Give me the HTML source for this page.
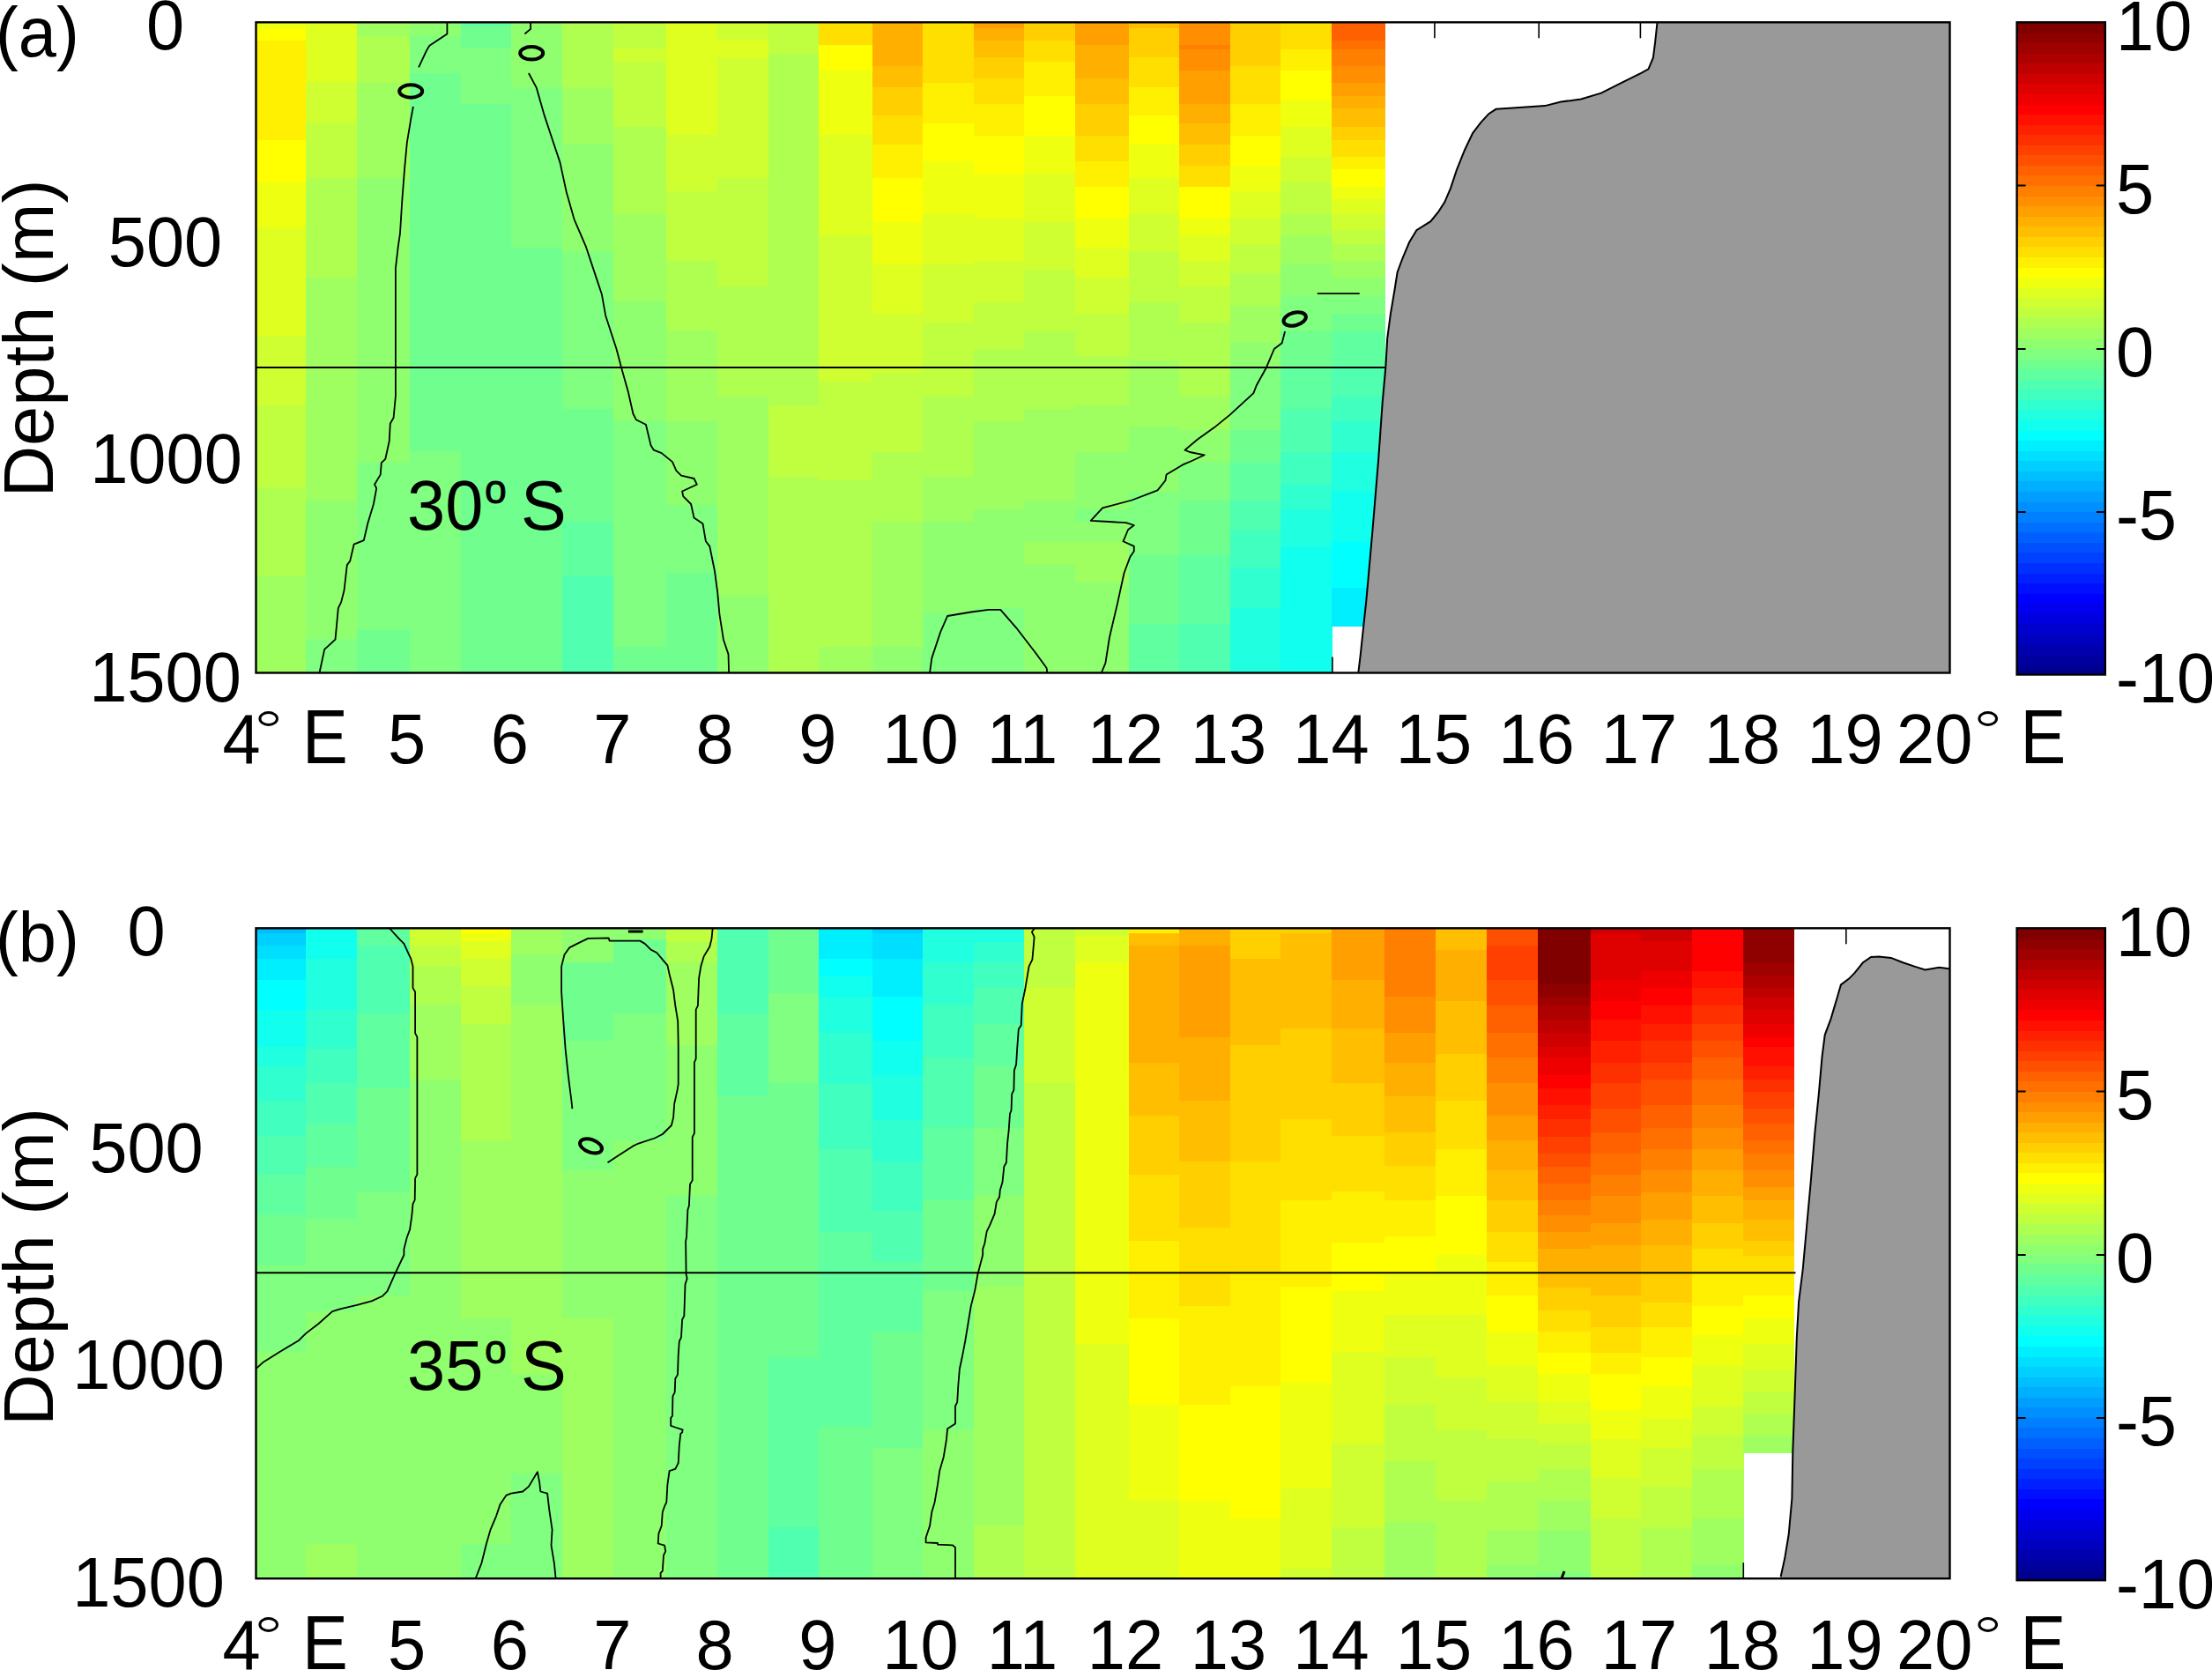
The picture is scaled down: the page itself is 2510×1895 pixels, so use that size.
<!DOCTYPE html>
<html><head><meta charset="utf-8"><title>Depth sections</title>
<style>
html,body{margin:0;padding:0;background:#fff;}
body{width:2510px;height:1895px;overflow:hidden;}
svg{display:block;font-family:"Liberation Sans",sans-serif;fill:#000;}
</style></head><body>
<svg width="2510" height="1895" viewBox="0 0 2510 1895">
<rect width="2510" height="1895" fill="#fff"/>
<g shape-rendering="crispEdges"><rect x="290.5" y="25.3" width="57.1" height="7.8" fill="#efff10"/>
<rect x="290.5" y="32.5" width="57.1" height="13.9" fill="#ffff00"/>
<rect x="290.5" y="45.8" width="57.1" height="113.6" fill="#ffef00"/>
<rect x="290.5" y="158.8" width="57.1" height="48.5" fill="#ffff00"/>
<rect x="290.5" y="206.7" width="57.1" height="51.4" fill="#efff10"/>
<rect x="290.5" y="257.5" width="57.1" height="123.6" fill="#dfff20"/>
<rect x="290.5" y="380.5" width="57.1" height="79.6" fill="#cfff30"/>
<rect x="290.5" y="459.5" width="57.1" height="94.1" fill="#bfff40"/>
<rect x="290.5" y="553" width="57.1" height="102" fill="#afff50"/>
<rect x="290.5" y="654.4" width="57.1" height="109.7" fill="#9fff60"/>
<rect x="347" y="25.3" width="58.6" height="68.3" fill="#dfff20"/>
<rect x="347" y="93" width="58.6" height="47.6" fill="#cfff30"/>
<rect x="347" y="140" width="58.6" height="62.6" fill="#bfff40"/>
<rect x="347" y="202" width="58.6" height="113.6" fill="#afff50"/>
<rect x="347" y="315" width="58.6" height="253.1" fill="#9fff60"/>
<rect x="347" y="567.5" width="58.6" height="157.7" fill="#8fff70"/>
<rect x="347" y="724.6" width="58.6" height="39.5" fill="#80ff80"/>
<rect x="405" y="25.3" width="60.7" height="16.3" fill="#9fff60"/>
<rect x="405" y="41" width="60.7" height="53.6" fill="#afff50"/>
<rect x="405" y="94" width="60.7" height="108.6" fill="#9fff60"/>
<rect x="405" y="202" width="60.7" height="323.6" fill="#8fff70"/>
<rect x="405" y="525" width="60.7" height="190.2" fill="#80ff80"/>
<rect x="405" y="714.6" width="60.7" height="49.5" fill="#70ff8f"/>
<rect x="465.1" y="25.3" width="58.5" height="16.3" fill="#8fff70"/>
<rect x="465.1" y="41" width="58.5" height="42.6" fill="#80ff80"/>
<rect x="465.1" y="83" width="58.5" height="429.6" fill="#70ff8f"/>
<rect x="465.1" y="512" width="58.5" height="252.1" fill="#80ff80"/>
<rect x="523" y="25.3" width="57.9" height="5.3" fill="#60ff9f"/>
<rect x="523" y="30" width="57.9" height="25.6" fill="#70ff8f"/>
<rect x="523" y="55" width="57.9" height="63.2" fill="#80ff80"/>
<rect x="523" y="117.6" width="57.9" height="646.5" fill="#70ff8f"/>
<rect x="580.3" y="25.3" width="58.3" height="73.9" fill="#8fff70"/>
<rect x="580.3" y="98.6" width="58.3" height="183" fill="#80ff80"/>
<rect x="580.3" y="281" width="58.3" height="483.1" fill="#70ff8f"/>
<rect x="638" y="25.3" width="58.3" height="73.9" fill="#afff50"/>
<rect x="638" y="98.6" width="58.3" height="65" fill="#9fff60"/>
<rect x="638" y="163" width="58.3" height="123.6" fill="#8fff70"/>
<rect x="638" y="286" width="58.3" height="178.6" fill="#80ff80"/>
<rect x="638" y="464" width="58.3" height="128.6" fill="#70ff8f"/>
<rect x="638" y="592" width="58.3" height="62.6" fill="#60ff9f"/>
<rect x="638" y="654" width="58.3" height="110.1" fill="#50ffaf"/>
<rect x="695.7" y="25.3" width="61.2" height="30.3" fill="#bfff40"/>
<rect x="695.7" y="55" width="61.2" height="15.6" fill="#cfff30"/>
<rect x="695.7" y="70" width="61.2" height="74.6" fill="#bfff40"/>
<rect x="695.7" y="144" width="61.2" height="99.6" fill="#afff50"/>
<rect x="695.7" y="243" width="61.2" height="99.1" fill="#9fff60"/>
<rect x="695.7" y="341.5" width="61.2" height="137.1" fill="#8fff70"/>
<rect x="695.7" y="478" width="61.2" height="256.1" fill="#80ff80"/>
<rect x="695.7" y="733.5" width="61.2" height="30.6" fill="#70ff8f"/>
<rect x="756.3" y="25.3" width="57.9" height="128.3" fill="#dfff20"/>
<rect x="756.3" y="153" width="57.9" height="64.6" fill="#cfff30"/>
<rect x="756.3" y="217" width="57.9" height="79.6" fill="#bfff40"/>
<rect x="756.3" y="296" width="57.9" height="79.6" fill="#afff50"/>
<rect x="756.3" y="375" width="57.9" height="103.6" fill="#9fff60"/>
<rect x="756.3" y="478" width="57.9" height="95.6" fill="#8fff70"/>
<rect x="756.3" y="573" width="57.9" height="77.6" fill="#80ff80"/>
<rect x="756.3" y="650" width="57.9" height="114.1" fill="#70ff8f"/>
<rect x="813.6" y="25.3" width="58.5" height="21.3" fill="#cfff30"/>
<rect x="813.6" y="46" width="58.5" height="19.6" fill="#dfff20"/>
<rect x="813.6" y="65" width="58.5" height="137.6" fill="#cfff30"/>
<rect x="813.6" y="202" width="58.5" height="123.6" fill="#bfff40"/>
<rect x="813.6" y="325" width="58.5" height="125.1" fill="#afff50"/>
<rect x="813.6" y="449.5" width="58.5" height="226.7" fill="#9fff60"/>
<rect x="813.6" y="675.6" width="58.5" height="88.5" fill="#8fff70"/>
<rect x="871.5" y="25.3" width="58.1" height="36.1" fill="#bfff40"/>
<rect x="871.5" y="60.8" width="58.1" height="399.3" fill="#afff50"/>
<rect x="871.5" y="459.5" width="58.1" height="82.1" fill="#bfff40"/>
<rect x="871.5" y="541" width="58.1" height="223.1" fill="#afff50"/>
<rect x="929" y="25.3" width="61.1" height="26.3" fill="#ffdf00"/>
<rect x="929" y="51" width="61.1" height="28.6" fill="#ffff00"/>
<rect x="929" y="79" width="61.1" height="74.6" fill="#efff10"/>
<rect x="929" y="153" width="61.1" height="114.6" fill="#dfff20"/>
<rect x="929" y="267" width="61.1" height="166.6" fill="#cfff30"/>
<rect x="929" y="433" width="61.1" height="112.6" fill="#bfff40"/>
<rect x="929" y="545" width="61.1" height="189.6" fill="#afff50"/>
<rect x="929" y="734" width="61.1" height="30.1" fill="#9fff60"/>
<rect x="989.5" y="25.3" width="57.9" height="50.3" fill="#ffaf00"/>
<rect x="989.5" y="75" width="57.9" height="24.6" fill="#ffbf00"/>
<rect x="989.5" y="99" width="57.9" height="32.1" fill="#ffcf00"/>
<rect x="989.5" y="130.5" width="57.9" height="34.1" fill="#ffdf00"/>
<rect x="989.5" y="164" width="57.9" height="38.6" fill="#ffef00"/>
<rect x="989.5" y="202" width="57.9" height="50.6" fill="#ffff00"/>
<rect x="989.5" y="252" width="57.9" height="48.6" fill="#efff10"/>
<rect x="989.5" y="300" width="57.9" height="56.6" fill="#dfff20"/>
<rect x="989.5" y="356" width="57.9" height="67.6" fill="#cfff30"/>
<rect x="989.5" y="423" width="57.9" height="90.6" fill="#bfff40"/>
<rect x="989.5" y="513" width="57.9" height="79.6" fill="#afff50"/>
<rect x="989.5" y="592" width="57.9" height="142.1" fill="#9fff60"/>
<rect x="989.5" y="733.5" width="57.9" height="30.6" fill="#8fff70"/>
<rect x="1046.8" y="25.3" width="58.5" height="69.3" fill="#ffdf00"/>
<rect x="1046.8" y="94" width="58.5" height="46.6" fill="#ffef00"/>
<rect x="1046.8" y="140" width="58.5" height="43.6" fill="#ffff00"/>
<rect x="1046.8" y="183" width="58.5" height="60.6" fill="#efff10"/>
<rect x="1046.8" y="243" width="58.5" height="57.6" fill="#dfff20"/>
<rect x="1046.8" y="300" width="58.5" height="66.6" fill="#cfff30"/>
<rect x="1046.8" y="366" width="58.5" height="84.1" fill="#bfff40"/>
<rect x="1046.8" y="449.5" width="58.5" height="92.1" fill="#afff50"/>
<rect x="1046.8" y="541" width="58.5" height="51.6" fill="#9fff60"/>
<rect x="1046.8" y="592" width="58.5" height="104.2" fill="#8fff70"/>
<rect x="1046.8" y="695.6" width="58.5" height="68.5" fill="#80ff80"/>
<rect x="1104.7" y="25.3" width="58.3" height="7.3" fill="#ff9f00"/>
<rect x="1104.7" y="32" width="58.3" height="14.6" fill="#ffaf00"/>
<rect x="1104.7" y="46" width="58.3" height="19.6" fill="#ffbf00"/>
<rect x="1104.7" y="65" width="58.3" height="24.6" fill="#ffcf00"/>
<rect x="1104.7" y="89" width="58.3" height="29.6" fill="#ffdf00"/>
<rect x="1104.7" y="118" width="58.3" height="36.6" fill="#ffef00"/>
<rect x="1104.7" y="154" width="58.3" height="43.6" fill="#ffff00"/>
<rect x="1104.7" y="197" width="58.3" height="50.6" fill="#efff10"/>
<rect x="1104.7" y="247" width="58.3" height="49.6" fill="#dfff20"/>
<rect x="1104.7" y="296" width="58.3" height="47.6" fill="#cfff30"/>
<rect x="1104.7" y="343" width="58.3" height="53.6" fill="#bfff40"/>
<rect x="1104.7" y="396" width="58.3" height="82.6" fill="#afff50"/>
<rect x="1104.7" y="478" width="58.3" height="100.2" fill="#9fff60"/>
<rect x="1104.7" y="577.6" width="58.3" height="113" fill="#8fff70"/>
<rect x="1104.7" y="690" width="58.3" height="74.1" fill="#80ff80"/>
<rect x="1162.4" y="25.3" width="58.6" height="21.3" fill="#ffcf00"/>
<rect x="1162.4" y="46" width="58.6" height="24.6" fill="#ffdf00"/>
<rect x="1162.4" y="70" width="58.6" height="39.6" fill="#ffef00"/>
<rect x="1162.4" y="109" width="58.6" height="45.6" fill="#ffff00"/>
<rect x="1162.4" y="154" width="58.6" height="43.6" fill="#efff10"/>
<rect x="1162.4" y="197" width="58.6" height="55.6" fill="#dfff20"/>
<rect x="1162.4" y="252" width="58.6" height="54.6" fill="#cfff30"/>
<rect x="1162.4" y="306" width="58.6" height="70.1" fill="#bfff40"/>
<rect x="1162.4" y="375.5" width="58.6" height="89.1" fill="#afff50"/>
<rect x="1162.4" y="464" width="58.6" height="104.1" fill="#9fff60"/>
<rect x="1162.4" y="567.5" width="58.6" height="48.1" fill="#8fff70"/>
<rect x="1162.4" y="615" width="58.6" height="25.6" fill="#9fff60"/>
<rect x="1162.4" y="640" width="58.6" height="124.1" fill="#8fff70"/>
<rect x="1220.4" y="25.3" width="60.7" height="26.3" fill="#ff9f00"/>
<rect x="1220.4" y="51" width="60.7" height="38.6" fill="#ffaf00"/>
<rect x="1220.4" y="89" width="60.7" height="29.6" fill="#ffbf00"/>
<rect x="1220.4" y="118" width="60.7" height="36.6" fill="#ffcf00"/>
<rect x="1220.4" y="154" width="60.7" height="29.6" fill="#ffdf00"/>
<rect x="1220.4" y="183" width="60.7" height="29.6" fill="#ffef00"/>
<rect x="1220.4" y="212" width="60.7" height="35.6" fill="#ffff00"/>
<rect x="1220.4" y="247" width="60.7" height="34.6" fill="#efff10"/>
<rect x="1220.4" y="281" width="60.7" height="34.6" fill="#dfff20"/>
<rect x="1220.4" y="315" width="60.7" height="41.6" fill="#cfff30"/>
<rect x="1220.4" y="356" width="60.7" height="48.6" fill="#bfff40"/>
<rect x="1220.4" y="404" width="60.7" height="56.1" fill="#afff50"/>
<rect x="1220.4" y="459.5" width="60.7" height="54.1" fill="#9fff60"/>
<rect x="1220.4" y="513" width="60.7" height="65.2" fill="#8fff70"/>
<rect x="1220.4" y="577.6" width="60.7" height="15" fill="#80ff80"/>
<rect x="1220.4" y="592" width="60.7" height="23.6" fill="#8fff70"/>
<rect x="1220.4" y="615" width="60.7" height="46.6" fill="#9fff60"/>
<rect x="1220.4" y="661" width="60.7" height="103.1" fill="#8fff70"/>
<rect x="1280.5" y="25.3" width="58.1" height="7.3" fill="#ffbf00"/>
<rect x="1280.5" y="32" width="58.1" height="33.6" fill="#ffcf00"/>
<rect x="1280.5" y="65" width="58.1" height="34.6" fill="#ffdf00"/>
<rect x="1280.5" y="99" width="58.1" height="32.1" fill="#ffef00"/>
<rect x="1280.5" y="130.5" width="58.1" height="34.1" fill="#ffff00"/>
<rect x="1280.5" y="164" width="58.1" height="38.6" fill="#efff10"/>
<rect x="1280.5" y="202" width="58.1" height="41.6" fill="#dfff20"/>
<rect x="1280.5" y="243" width="58.1" height="43.6" fill="#cfff30"/>
<rect x="1280.5" y="286" width="58.1" height="57.6" fill="#bfff40"/>
<rect x="1280.5" y="343" width="58.1" height="66.6" fill="#afff50"/>
<rect x="1280.5" y="409" width="58.1" height="75.6" fill="#9fff60"/>
<rect x="1280.5" y="484" width="58.1" height="75.2" fill="#8fff70"/>
<rect x="1280.5" y="558.6" width="58.1" height="72" fill="#80ff80"/>
<rect x="1280.5" y="630" width="58.1" height="78.6" fill="#70ff8f"/>
<rect x="1280.5" y="708" width="58.1" height="56.1" fill="#60ff9f"/>
<rect x="1338" y="25.3" width="58.3" height="26.3" fill="#ff8f00"/>
<rect x="1338" y="51" width="58.3" height="5.6" fill="#ff8000"/>
<rect x="1338" y="56" width="58.3" height="24.6" fill="#ff8f00"/>
<rect x="1338" y="80" width="58.3" height="38.6" fill="#ff9f00"/>
<rect x="1338" y="118" width="58.3" height="22.6" fill="#ffaf00"/>
<rect x="1338" y="140" width="58.3" height="24.6" fill="#ffbf00"/>
<rect x="1338" y="164" width="58.3" height="24.6" fill="#ffcf00"/>
<rect x="1338" y="188" width="58.3" height="24.6" fill="#ffdf00"/>
<rect x="1338" y="212" width="58.3" height="35.6" fill="#ffff00"/>
<rect x="1338" y="247" width="58.3" height="20.6" fill="#efff10"/>
<rect x="1338" y="267" width="58.3" height="29.6" fill="#dfff20"/>
<rect x="1338" y="296" width="58.3" height="29.6" fill="#cfff30"/>
<rect x="1338" y="325" width="58.3" height="41.6" fill="#bfff40"/>
<rect x="1338" y="366" width="58.3" height="84.1" fill="#afff50"/>
<rect x="1338" y="449.5" width="58.3" height="39.1" fill="#9fff60"/>
<rect x="1338" y="488" width="58.3" height="37.6" fill="#8fff70"/>
<rect x="1338" y="525" width="58.3" height="43.1" fill="#80ff80"/>
<rect x="1338" y="567.5" width="58.3" height="63.1" fill="#70ff8f"/>
<rect x="1338" y="630" width="58.3" height="78.6" fill="#60ff9f"/>
<rect x="1338" y="708" width="58.3" height="56.1" fill="#50ffaf"/>
<rect x="1395.7" y="25.3" width="58.3" height="50.3" fill="#ffcf00"/>
<rect x="1395.7" y="75" width="58.3" height="43.6" fill="#ffdf00"/>
<rect x="1395.7" y="118" width="58.3" height="36.6" fill="#ffef00"/>
<rect x="1395.7" y="154" width="58.3" height="34.6" fill="#ffff00"/>
<rect x="1395.7" y="188" width="58.3" height="29.6" fill="#efff10"/>
<rect x="1395.7" y="217" width="58.3" height="30.6" fill="#dfff20"/>
<rect x="1395.7" y="247" width="58.3" height="30.6" fill="#cfff30"/>
<rect x="1395.7" y="277" width="58.3" height="33.6" fill="#bfff40"/>
<rect x="1395.7" y="310" width="58.3" height="37.6" fill="#afff50"/>
<rect x="1395.7" y="347" width="58.3" height="42.6" fill="#9fff60"/>
<rect x="1395.7" y="389" width="58.3" height="29.6" fill="#8fff70"/>
<rect x="1395.7" y="418" width="58.3" height="70.6" fill="#80ff80"/>
<rect x="1395.7" y="488" width="58.3" height="37.6" fill="#70ff8f"/>
<rect x="1395.7" y="525" width="58.3" height="43.1" fill="#60ff9f"/>
<rect x="1395.7" y="567.5" width="58.3" height="35.1" fill="#50ffaf"/>
<rect x="1395.7" y="602" width="58.3" height="42.6" fill="#40ffbf"/>
<rect x="1395.7" y="644" width="58.3" height="46.6" fill="#30ffcf"/>
<rect x="1395.7" y="690" width="58.3" height="74.1" fill="#20ffdf"/>
<rect x="1453.4" y="25.3" width="58.4" height="31.3" fill="#ffdf00"/>
<rect x="1453.4" y="56" width="58.4" height="24.6" fill="#ffef00"/>
<rect x="1453.4" y="80" width="58.4" height="33.6" fill="#ffff00"/>
<rect x="1453.4" y="113" width="58.4" height="31.6" fill="#efff10"/>
<rect x="1453.4" y="144" width="58.4" height="34.6" fill="#dfff20"/>
<rect x="1453.4" y="178" width="58.4" height="29.6" fill="#cfff30"/>
<rect x="1453.4" y="207" width="58.4" height="36.6" fill="#bfff40"/>
<rect x="1453.4" y="243" width="58.4" height="24.6" fill="#afff50"/>
<rect x="1453.4" y="267" width="58.4" height="33.6" fill="#9fff60"/>
<rect x="1453.4" y="300" width="58.4" height="35.6" fill="#8fff70"/>
<rect x="1453.4" y="335" width="58.4" height="41.6" fill="#80ff80"/>
<rect x="1453.4" y="376" width="58.4" height="42.6" fill="#70ff8f"/>
<rect x="1453.4" y="418" width="58.4" height="46.6" fill="#60ff9f"/>
<rect x="1453.4" y="464" width="58.4" height="49.6" fill="#50ffaf"/>
<rect x="1453.4" y="513" width="58.4" height="37.6" fill="#40ffbf"/>
<rect x="1453.4" y="550" width="58.4" height="28.2" fill="#30ffcf"/>
<rect x="1453.4" y="577.6" width="58.4" height="44" fill="#20ffdf"/>
<rect x="1453.4" y="621" width="58.4" height="143.1" fill="#10ffef"/>
<rect x="1511.2" y="25.3" width="60.7" height="21.3" fill="#ff6000"/>
<rect x="1511.2" y="46" width="60.7" height="10.6" fill="#ff7000"/>
<rect x="1511.2" y="56" width="60.7" height="19.6" fill="#ff8000"/>
<rect x="1511.2" y="75" width="60.7" height="19.6" fill="#ff8f00"/>
<rect x="1511.2" y="94" width="60.7" height="15.6" fill="#ff9f00"/>
<rect x="1511.2" y="109" width="60.7" height="14.6" fill="#ffaf00"/>
<rect x="1511.2" y="123" width="60.7" height="21.6" fill="#ffbf00"/>
<rect x="1511.2" y="144" width="60.7" height="15.6" fill="#ffcf00"/>
<rect x="1511.2" y="159" width="60.7" height="19.6" fill="#ffdf00"/>
<rect x="1511.2" y="178" width="60.7" height="14.6" fill="#ffef00"/>
<rect x="1511.2" y="192" width="60.7" height="20.6" fill="#ffff00"/>
<rect x="1511.2" y="212" width="60.7" height="14.6" fill="#efff10"/>
<rect x="1511.2" y="226" width="60.7" height="17.6" fill="#dfff20"/>
<rect x="1511.2" y="243" width="60.7" height="18.6" fill="#cfff30"/>
<rect x="1511.2" y="261" width="60.7" height="16.6" fill="#bfff40"/>
<rect x="1511.2" y="277" width="60.7" height="19.6" fill="#afff50"/>
<rect x="1511.2" y="296" width="60.7" height="19.6" fill="#9fff60"/>
<rect x="1511.2" y="315" width="60.7" height="20.6" fill="#8fff70"/>
<rect x="1511.2" y="335" width="60.7" height="21.6" fill="#80ff80"/>
<rect x="1511.2" y="356" width="60.7" height="20.6" fill="#70ff8f"/>
<rect x="1511.2" y="376" width="60.7" height="42.6" fill="#60ff9f"/>
<rect x="1511.2" y="418" width="60.7" height="32.1" fill="#50ffaf"/>
<rect x="1511.2" y="449.5" width="60.7" height="29.1" fill="#40ffbf"/>
<rect x="1511.2" y="478" width="60.7" height="35.6" fill="#30ffcf"/>
<rect x="1511.2" y="513" width="60.7" height="45.1" fill="#20ffdf"/>
<rect x="1511.2" y="557.5" width="60.7" height="58.1" fill="#10ffef"/>
<rect x="1511.2" y="615" width="60.7" height="52.6" fill="#00ffff"/>
<rect x="1511.2" y="667" width="60.7" height="43.6" fill="#00efff"/></g>
<line x1="1627.9" y1="25.3" x2="1627.9" y2="43.3" stroke="#000" stroke-width="1.6"/>
<line x1="1746.2" y1="25.3" x2="1746.2" y2="43.3" stroke="#000" stroke-width="1.6"/>
<line x1="1861.4" y1="25.3" x2="1861.4" y2="43.3" stroke="#000" stroke-width="1.6"/>
<line x1="1511.9" y1="763.5" x2="1511.9" y2="745.5" stroke="#000" stroke-width="1.6"/>
<polygon points="1880.5,25.5 1878.2,47.3 1875.9,65.5 1870.5,78.3 1862.3,82.8 1844.1,91.9 1816.8,105.6 1794,112.4 1771.3,115.6 1753,120.1 1716.6,122.4 1697.5,123.8 1689.3,129.2 1680.2,139.2 1671.1,151.1 1662,170.2 1652.9,192.9 1646.1,213.4 1639.3,229.3 1632.5,239.8 1623.4,251.2 1607.4,261.2 1599.2,274.8 1591.5,293 1585.6,309 1582.4,329.5 1577.8,356.8 1574.2,384.1 1572.4,415.9 1568.7,456.9 1564.2,520.6 1557.4,602.5 1550.5,679.9 1543.7,743.6 1541.4,762.7 1541.4,763.5 2212.5,763.5 2212.5,25.5" fill="#999999"/>
<polyline points="1880.5,25.5 1878.2,47.3 1875.9,65.5 1870.5,78.3 1862.3,82.8 1844.1,91.9 1816.8,105.6 1794,112.4 1771.3,115.6 1753,120.1 1716.6,122.4 1697.5,123.8 1689.3,129.2 1680.2,139.2 1671.1,151.1 1662,170.2 1652.9,192.9 1646.1,213.4 1639.3,229.3 1632.5,239.8 1623.4,251.2 1607.4,261.2 1599.2,274.8 1591.5,293 1585.6,309 1582.4,329.5 1577.8,356.8 1574.2,384.1 1572.4,415.9 1568.7,456.9 1564.2,520.6 1557.4,602.5 1550.5,679.9 1543.7,743.6 1541.4,762.7" fill="none" stroke="#000" stroke-width="2"/>
<line x1="290.5" y1="417" x2="1572.5" y2="417" stroke="#000" stroke-width="2"/>
<polyline points="507.4,25 507.4,38.5 487.4,51.8 484,57.4 475.1,76.4" fill="none" stroke="#000" stroke-width="1.8" stroke-linejoin="round"/>
<polyline points="468.9,120.9 466.2,135.4 461.8,162.1 459.1,191.1 456.2,229 454,264.6 451.7,280.2 448.9,304.7 448.9,449.5 446.6,474 442.8,480.7 441.7,500.7 437.3,520.8 432.8,525.2 431.7,538.6 425,549.7 427.2,554.2 423.9,572 417.2,594.3 412.8,613.2 401.6,617.7 397.2,636.6 393.8,641.1 390.5,670 387.1,683.4 383.8,690.1 380.5,725.7 368.2,736.9 362.6,763" fill="none" stroke="#000" stroke-width="1.8" stroke-linejoin="round"/>
<polyline points="602.1,25 602.1,32.9 595.4,38.5" fill="none" stroke="#000" stroke-width="1.8" stroke-linejoin="round"/>
<polyline points="599.9,83 608.8,99.7 617.7,130.9 626.6,157.7 635.5,184.4 642.7,217.8 651.6,249 665,280.2 676.1,313.6 682.8,333.7 687.2,358.2 699.5,396 705.1,417.2 712.9,445 718.4,469.5 721.8,476.2 732.9,481.8 738.5,505.2 741.8,510.7 750.7,514.1 763,524.1 767.4,534.1 773,539.7 787.5,543 790.8,549.7 774.1,557.5 775.2,563.1 784.1,572 787.5,587.6 797.5,594.3 800.9,614.3 805.3,619.9 810.9,647.7 814.2,672.2 816.4,696.8 820.9,725.7 826.5,742.4 827.1,763" fill="none" stroke="#000" stroke-width="1.8" stroke-linejoin="round"/>
<polyline points="1055.1,763 1057.3,746.9 1067.3,716.8 1075.1,699 1101.8,694.5 1121.9,691.9 1135.3,691.9 1153.1,712.3 1175.4,741.3 1187.6,758 1188.3,763" fill="none" stroke="#000" stroke-width="1.8" stroke-linejoin="round"/>
<polyline points="1250,763 1254.4,752.4 1258.9,723.5 1267.8,685.6 1275.6,650 1282.3,632.1 1286.8,625.5 1286.8,619.9 1274.5,614.3 1280.1,601 1286.8,596 1277.8,593.2 1258.9,592 1237.7,590.9 1251.1,576.4 1284.5,567.5 1313.5,556.4 1322.4,545.3 1323.5,538.6 1342,527.4 1352.3,523 1366.8,516.3 1350,513 1344.5,510.7 1359,498.5 1377.9,485.1 1395.7,470.6 1422.4,446.1 1425.8,437.2 1436.9,417.2 1445.8,396 1454.7,389.3 1458.1,376" fill="none" stroke="#000" stroke-width="1.8" stroke-linejoin="round"/>
<polyline points="1494.8,333.2 1542.7,333.2" fill="none" stroke="#000" stroke-width="1.8" stroke-linejoin="round"/>
<ellipse cx="466.2" cy="103.5" rx="13" ry="7.2" fill="none" stroke="#000" stroke-width="4" transform="rotate(0 466.2 103.5)"/>
<ellipse cx="603.2" cy="60.3" rx="13" ry="7.2" fill="none" stroke="#000" stroke-width="4" transform="rotate(0 603.2 60.3)"/>
<ellipse cx="1469.2" cy="362" rx="13" ry="7.2" fill="none" stroke="#000" stroke-width="4" transform="rotate(-15 1469.2 362)"/>

<rect x="290.5" y="25.3" width="1922" height="738.2" fill="none" stroke="#000" stroke-width="2.4"/>
<g shape-rendering="crispEdges"><rect x="290.5" y="1053.3" width="57.1" height="6.3" fill="#00bfff"/>
<rect x="290.5" y="1059" width="57.1" height="14.6" fill="#00cfff"/>
<rect x="290.5" y="1073" width="57.1" height="15.6" fill="#00dfff"/>
<rect x="290.5" y="1088" width="57.1" height="24.6" fill="#00efff"/>
<rect x="290.5" y="1112" width="57.1" height="34.6" fill="#00ffff"/>
<rect x="290.5" y="1146" width="57.1" height="42.6" fill="#10ffef"/>
<rect x="290.5" y="1188" width="57.1" height="22.6" fill="#20ffdf"/>
<rect x="290.5" y="1210" width="57.1" height="39.6" fill="#30ffcf"/>
<rect x="290.5" y="1249" width="57.1" height="40.6" fill="#40ffbf"/>
<rect x="290.5" y="1289" width="57.1" height="44.6" fill="#50ffaf"/>
<rect x="290.5" y="1333" width="57.1" height="45.6" fill="#60ff9f"/>
<rect x="290.5" y="1378" width="57.1" height="58.6" fill="#70ff8f"/>
<rect x="290.5" y="1436" width="57.1" height="98.6" fill="#80ff80"/>
<rect x="290.5" y="1534" width="57.1" height="257.8" fill="#8fff70"/>
<rect x="347" y="1053.3" width="58.6" height="35.3" fill="#10ffef"/>
<rect x="347" y="1088" width="58.6" height="58.6" fill="#20ffdf"/>
<rect x="347" y="1146" width="58.6" height="44.6" fill="#30ffcf"/>
<rect x="347" y="1190" width="58.6" height="39.6" fill="#40ffbf"/>
<rect x="347" y="1229" width="58.6" height="46.6" fill="#50ffaf"/>
<rect x="347" y="1275" width="58.6" height="49.6" fill="#60ff9f"/>
<rect x="347" y="1324" width="58.6" height="59.6" fill="#70ff8f"/>
<rect x="347" y="1383" width="58.6" height="105.1" fill="#80ff80"/>
<rect x="347" y="1487.5" width="58.6" height="264.6" fill="#8fff70"/>
<rect x="347" y="1751.5" width="58.6" height="40.3" fill="#9fff60"/>
<rect x="405" y="1053.3" width="60.7" height="20.3" fill="#60ff9f"/>
<rect x="405" y="1073" width="60.7" height="77.6" fill="#50ffaf"/>
<rect x="405" y="1150" width="60.7" height="85.6" fill="#60ff9f"/>
<rect x="405" y="1235" width="60.7" height="117.6" fill="#70ff8f"/>
<rect x="405" y="1352" width="60.7" height="118.6" fill="#80ff80"/>
<rect x="405" y="1470" width="60.7" height="321.8" fill="#8fff70"/>
<rect x="465.1" y="1053.3" width="58.5" height="20.3" fill="#cfff30"/>
<rect x="465.1" y="1073" width="58.5" height="24.6" fill="#bfff40"/>
<rect x="465.1" y="1097" width="58.5" height="43.6" fill="#afff50"/>
<rect x="465.1" y="1140" width="58.5" height="85.6" fill="#9fff60"/>
<rect x="465.1" y="1225" width="58.5" height="566.8" fill="#8fff70"/>
<rect x="523" y="1053.3" width="57.9" height="6.3" fill="#ffff00"/>
<rect x="523" y="1059" width="57.9" height="9.6" fill="#efff10"/>
<rect x="523" y="1068" width="57.9" height="20.6" fill="#dfff20"/>
<rect x="523" y="1088" width="57.9" height="31.6" fill="#cfff30"/>
<rect x="523" y="1119" width="57.9" height="43.6" fill="#bfff40"/>
<rect x="523" y="1162" width="57.9" height="132.6" fill="#afff50"/>
<rect x="523" y="1294" width="57.9" height="202.6" fill="#9fff60"/>
<rect x="523" y="1496" width="57.9" height="256.1" fill="#8fff70"/>
<rect x="523" y="1751.5" width="57.9" height="40.3" fill="#80ff80"/>
<rect x="580.3" y="1053.3" width="58.3" height="30.3" fill="#9fff60"/>
<rect x="580.3" y="1083" width="58.3" height="57.6" fill="#8fff70"/>
<rect x="580.3" y="1140" width="58.3" height="419.6" fill="#9fff60"/>
<rect x="580.3" y="1559" width="58.3" height="113.6" fill="#8fff70"/>
<rect x="580.3" y="1672" width="58.3" height="119.8" fill="#80ff80"/>
<rect x="638" y="1053.3" width="58.3" height="39.3" fill="#8fff70"/>
<rect x="638" y="1092" width="58.3" height="89.6" fill="#70ff8f"/>
<rect x="638" y="1181" width="58.3" height="147.6" fill="#80ff80"/>
<rect x="638" y="1328" width="58.3" height="168.6" fill="#8fff70"/>
<rect x="638" y="1496" width="58.3" height="295.8" fill="#9fff60"/>
<rect x="695.7" y="1053.3" width="61.2" height="13.3" fill="#8fff70"/>
<rect x="695.7" y="1066" width="61.2" height="84.6" fill="#70ff8f"/>
<rect x="695.7" y="1150" width="61.2" height="145.6" fill="#80ff80"/>
<rect x="695.7" y="1295" width="61.2" height="496.8" fill="#8fff70"/>
<rect x="756.3" y="1053.3" width="57.9" height="16.3" fill="#bfff40"/>
<rect x="756.3" y="1069" width="57.9" height="23.6" fill="#afff50"/>
<rect x="756.3" y="1092" width="57.9" height="94.6" fill="#9fff60"/>
<rect x="756.3" y="1186" width="57.9" height="171.6" fill="#8fff70"/>
<rect x="756.3" y="1357" width="57.9" height="434.8" fill="#80ff80"/>
<rect x="813.6" y="1053.3" width="58.5" height="97.3" fill="#50ffaf"/>
<rect x="813.6" y="1150" width="58.5" height="94.6" fill="#60ff9f"/>
<rect x="813.6" y="1244" width="58.5" height="547.8" fill="#70ff8f"/>
<rect x="871.5" y="1053.3" width="58.1" height="74.3" fill="#70ff8f"/>
<rect x="871.5" y="1127" width="58.1" height="102.6" fill="#80ff80"/>
<rect x="871.5" y="1229" width="58.1" height="311.6" fill="#70ff8f"/>
<rect x="871.5" y="1540" width="58.1" height="193.1" fill="#60ff9f"/>
<rect x="871.5" y="1732.5" width="58.1" height="59.3" fill="#50ffaf"/>
<rect x="929" y="1053.3" width="61.1" height="35.3" fill="#00efff"/>
<rect x="929" y="1088" width="61.1" height="19.6" fill="#00ffff"/>
<rect x="929" y="1107" width="61.1" height="24.6" fill="#10ffef"/>
<rect x="929" y="1131" width="61.1" height="41.6" fill="#20ffdf"/>
<rect x="929" y="1172" width="61.1" height="58.6" fill="#30ffcf"/>
<rect x="929" y="1230" width="61.1" height="74.6" fill="#40ffbf"/>
<rect x="929" y="1304" width="61.1" height="94.6" fill="#50ffaf"/>
<rect x="929" y="1398" width="61.1" height="221.6" fill="#60ff9f"/>
<rect x="929" y="1619" width="61.1" height="172.8" fill="#70ff8f"/>
<rect x="989.5" y="1053.3" width="57.9" height="6.3" fill="#00cfff"/>
<rect x="989.5" y="1059" width="57.9" height="29.6" fill="#00dfff"/>
<rect x="989.5" y="1088" width="57.9" height="43.6" fill="#00efff"/>
<rect x="989.5" y="1131" width="57.9" height="50.6" fill="#00ffff"/>
<rect x="989.5" y="1181" width="57.9" height="39.6" fill="#10ffef"/>
<rect x="989.5" y="1220" width="57.9" height="51.6" fill="#20ffdf"/>
<rect x="989.5" y="1271" width="57.9" height="47.6" fill="#30ffcf"/>
<rect x="989.5" y="1318" width="57.9" height="56.6" fill="#40ffbf"/>
<rect x="989.5" y="1374" width="57.9" height="58.6" fill="#50ffaf"/>
<rect x="989.5" y="1432" width="57.9" height="79.6" fill="#60ff9f"/>
<rect x="989.5" y="1511" width="57.9" height="132.6" fill="#70ff8f"/>
<rect x="989.5" y="1643" width="57.9" height="148.8" fill="#80ff80"/>
<rect x="1046.8" y="1053.3" width="58.5" height="39.3" fill="#20ffdf"/>
<rect x="1046.8" y="1092" width="58.5" height="48.6" fill="#30ffcf"/>
<rect x="1046.8" y="1140" width="58.5" height="60.6" fill="#40ffbf"/>
<rect x="1046.8" y="1200" width="58.5" height="79.6" fill="#50ffaf"/>
<rect x="1046.8" y="1279" width="58.5" height="83.6" fill="#60ff9f"/>
<rect x="1046.8" y="1362" width="58.5" height="103.6" fill="#70ff8f"/>
<rect x="1046.8" y="1465" width="58.5" height="158.6" fill="#80ff80"/>
<rect x="1046.8" y="1623" width="58.5" height="168.8" fill="#8fff70"/>
<rect x="1104.7" y="1053.3" width="58.3" height="16.3" fill="#20ffdf"/>
<rect x="1104.7" y="1069" width="58.3" height="23.6" fill="#30ffcf"/>
<rect x="1104.7" y="1092" width="58.3" height="29.6" fill="#40ffbf"/>
<rect x="1104.7" y="1121" width="58.3" height="41.6" fill="#50ffaf"/>
<rect x="1104.7" y="1162" width="58.3" height="48.6" fill="#60ff9f"/>
<rect x="1104.7" y="1210" width="58.3" height="70.6" fill="#70ff8f"/>
<rect x="1104.7" y="1280" width="58.3" height="77.6" fill="#80ff80"/>
<rect x="1104.7" y="1357" width="58.3" height="103.6" fill="#8fff70"/>
<rect x="1104.7" y="1460" width="58.3" height="271.6" fill="#9fff60"/>
<rect x="1104.7" y="1731" width="58.3" height="60.8" fill="#afff50"/>
<rect x="1162.4" y="1053.3" width="58.6" height="68.3" fill="#bfff40"/>
<rect x="1162.4" y="1121" width="58.6" height="108.6" fill="#cfff30"/>
<rect x="1162.4" y="1229" width="58.6" height="562.8" fill="#bfff40"/>
<rect x="1220.4" y="1053.3" width="60.7" height="9.3" fill="#cfff30"/>
<rect x="1220.4" y="1062" width="60.7" height="30.6" fill="#dfff20"/>
<rect x="1220.4" y="1092" width="60.7" height="433.6" fill="#efff10"/>
<rect x="1220.4" y="1525" width="60.7" height="266.8" fill="#dfff20"/>
<rect x="1280.5" y="1053.3" width="58.1" height="6.3" fill="#ffef00"/>
<rect x="1280.5" y="1059" width="58.1" height="14.6" fill="#ffbf00"/>
<rect x="1280.5" y="1073" width="58.1" height="133.6" fill="#ffaf00"/>
<rect x="1280.5" y="1206" width="58.1" height="60.6" fill="#ffbf00"/>
<rect x="1280.5" y="1266" width="58.1" height="67.6" fill="#ffcf00"/>
<rect x="1280.5" y="1333" width="58.1" height="75.6" fill="#ffdf00"/>
<rect x="1280.5" y="1408" width="58.1" height="88.6" fill="#ffef00"/>
<rect x="1280.5" y="1496" width="58.1" height="98.6" fill="#ffff00"/>
<rect x="1280.5" y="1594" width="58.1" height="109.1" fill="#efff10"/>
<rect x="1280.5" y="1702.5" width="58.1" height="89.3" fill="#dfff20"/>
<rect x="1338" y="1053.3" width="58.3" height="20.3" fill="#ffaf00"/>
<rect x="1338" y="1073" width="58.3" height="104.6" fill="#ff9f00"/>
<rect x="1338" y="1177" width="58.3" height="72.6" fill="#ffaf00"/>
<rect x="1338" y="1249" width="58.3" height="69.6" fill="#ffbf00"/>
<rect x="1338" y="1318" width="58.3" height="75.6" fill="#ffcf00"/>
<rect x="1338" y="1393" width="58.3" height="89.6" fill="#ffdf00"/>
<rect x="1338" y="1482" width="58.3" height="112.6" fill="#ffef00"/>
<rect x="1338" y="1594" width="58.3" height="109.1" fill="#ffff00"/>
<rect x="1338" y="1702.5" width="58.3" height="89.3" fill="#efff10"/>
<rect x="1395.7" y="1053.3" width="58.3" height="35.3" fill="#ffcf00"/>
<rect x="1395.7" y="1088" width="58.3" height="98.6" fill="#ffbf00"/>
<rect x="1395.7" y="1186" width="58.3" height="132.6" fill="#ffcf00"/>
<rect x="1395.7" y="1318" width="58.3" height="125.6" fill="#ffdf00"/>
<rect x="1395.7" y="1443" width="58.3" height="130.6" fill="#ffef00"/>
<rect x="1395.7" y="1573" width="58.3" height="150.1" fill="#ffff00"/>
<rect x="1395.7" y="1722.5" width="58.3" height="69.3" fill="#efff10"/>
<rect x="1453.4" y="1053.3" width="58.4" height="6.3" fill="#ffcf00"/>
<rect x="1453.4" y="1059" width="58.4" height="108.6" fill="#ffbf00"/>
<rect x="1453.4" y="1167" width="58.4" height="103.6" fill="#ffcf00"/>
<rect x="1453.4" y="1270" width="58.4" height="92.6" fill="#ffdf00"/>
<rect x="1453.4" y="1362" width="58.4" height="98.6" fill="#ffef00"/>
<rect x="1453.4" y="1460" width="58.4" height="109.6" fill="#ffff00"/>
<rect x="1453.4" y="1569" width="58.4" height="120.6" fill="#efff10"/>
<rect x="1453.4" y="1689" width="58.4" height="91.6" fill="#dfff20"/>
<rect x="1453.4" y="1780" width="58.4" height="11.8" fill="#cfff30"/>
<rect x="1511.2" y="1053.3" width="60.7" height="59.3" fill="#ff9f00"/>
<rect x="1511.2" y="1112" width="60.7" height="55.6" fill="#ffaf00"/>
<rect x="1511.2" y="1167" width="60.7" height="62.6" fill="#ffbf00"/>
<rect x="1511.2" y="1229" width="60.7" height="60.6" fill="#ffcf00"/>
<rect x="1511.2" y="1289" width="60.7" height="63.6" fill="#ffdf00"/>
<rect x="1511.2" y="1352" width="60.7" height="58.6" fill="#ffef00"/>
<rect x="1511.2" y="1410" width="60.7" height="55.6" fill="#ffff00"/>
<rect x="1511.2" y="1465" width="60.7" height="69.6" fill="#efff10"/>
<rect x="1511.2" y="1534" width="60.7" height="104.6" fill="#dfff20"/>
<rect x="1511.2" y="1638" width="60.7" height="95.1" fill="#cfff30"/>
<rect x="1511.2" y="1732.5" width="60.7" height="59.3" fill="#bfff40"/>
<rect x="1571.3" y="1053.3" width="58.3" height="78.3" fill="#ff8000"/>
<rect x="1571.3" y="1131" width="58.3" height="41.6" fill="#ff8f00"/>
<rect x="1571.3" y="1172" width="58.3" height="34.6" fill="#ff9f00"/>
<rect x="1571.3" y="1206" width="58.3" height="38.6" fill="#ffaf00"/>
<rect x="1571.3" y="1244" width="58.3" height="41.6" fill="#ffbf00"/>
<rect x="1571.3" y="1285" width="58.3" height="38.6" fill="#ffcf00"/>
<rect x="1571.3" y="1323" width="58.3" height="39.6" fill="#ffdf00"/>
<rect x="1571.3" y="1362" width="58.3" height="41.6" fill="#ffef00"/>
<rect x="1571.3" y="1403" width="58.3" height="43.6" fill="#ffff00"/>
<rect x="1571.3" y="1446" width="58.3" height="46.6" fill="#efff10"/>
<rect x="1571.3" y="1492" width="58.3" height="48.6" fill="#dfff20"/>
<rect x="1571.3" y="1540" width="58.3" height="54.6" fill="#cfff30"/>
<rect x="1571.3" y="1594" width="58.3" height="64.6" fill="#bfff40"/>
<rect x="1571.3" y="1658" width="58.3" height="69.6" fill="#afff50"/>
<rect x="1571.3" y="1727" width="58.3" height="64.8" fill="#9fff60"/>
<rect x="1629" y="1053.3" width="58.4" height="25.3" fill="#ffbf00"/>
<rect x="1629" y="1078" width="58.4" height="58.1" fill="#ffaf00"/>
<rect x="1629" y="1135.5" width="58.4" height="61.1" fill="#ffbf00"/>
<rect x="1629" y="1196" width="58.4" height="53.6" fill="#ffcf00"/>
<rect x="1629" y="1249" width="58.4" height="55.6" fill="#ffdf00"/>
<rect x="1629" y="1304" width="58.4" height="53.6" fill="#ffef00"/>
<rect x="1629" y="1357" width="58.4" height="67.6" fill="#ffff00"/>
<rect x="1629" y="1424" width="58.4" height="68.6" fill="#efff10"/>
<rect x="1629" y="1492" width="58.4" height="71.6" fill="#dfff20"/>
<rect x="1629" y="1563" width="58.4" height="60.6" fill="#cfff30"/>
<rect x="1629" y="1623" width="58.4" height="80.1" fill="#bfff40"/>
<rect x="1629" y="1702.5" width="58.4" height="89.3" fill="#afff50"/>
<rect x="1686.8" y="1053.3" width="58.4" height="20.3" fill="#ff5000"/>
<rect x="1686.8" y="1073" width="58.4" height="39.6" fill="#ff4000"/>
<rect x="1686.8" y="1112" width="58.4" height="29.6" fill="#ff5000"/>
<rect x="1686.8" y="1141" width="58.4" height="31.6" fill="#ff6000"/>
<rect x="1686.8" y="1172" width="58.4" height="28.6" fill="#ff7000"/>
<rect x="1686.8" y="1200" width="58.4" height="29.6" fill="#ff8000"/>
<rect x="1686.8" y="1229" width="58.4" height="37.6" fill="#ff8f00"/>
<rect x="1686.8" y="1266" width="58.4" height="28.6" fill="#ff9f00"/>
<rect x="1686.8" y="1294" width="58.4" height="34.6" fill="#ffaf00"/>
<rect x="1686.8" y="1328" width="58.4" height="34.6" fill="#ffbf00"/>
<rect x="1686.8" y="1362" width="58.4" height="36.6" fill="#ffcf00"/>
<rect x="1686.8" y="1398" width="58.4" height="34.6" fill="#ffdf00"/>
<rect x="1686.8" y="1432" width="58.4" height="38.6" fill="#ffef00"/>
<rect x="1686.8" y="1470" width="58.4" height="41.6" fill="#ffff00"/>
<rect x="1686.8" y="1511" width="58.4" height="39.6" fill="#efff10"/>
<rect x="1686.8" y="1550" width="58.4" height="40.6" fill="#dfff20"/>
<rect x="1686.8" y="1590" width="58.4" height="43.6" fill="#cfff30"/>
<rect x="1686.8" y="1633" width="58.4" height="48.6" fill="#bfff40"/>
<rect x="1686.8" y="1681" width="58.4" height="56.6" fill="#afff50"/>
<rect x="1686.8" y="1737" width="58.4" height="39.6" fill="#9fff60"/>
<rect x="1686.8" y="1776" width="58.4" height="15.8" fill="#8fff70"/>
<rect x="1744.6" y="1053.3" width="60.7" height="64.3" fill="#800000"/>
<rect x="1744.6" y="1117" width="60.7" height="14.6" fill="#8f0000"/>
<rect x="1744.6" y="1131" width="60.7" height="10.6" fill="#9f0000"/>
<rect x="1744.6" y="1141" width="60.7" height="16.6" fill="#af0000"/>
<rect x="1744.6" y="1157" width="60.7" height="15.6" fill="#bf0000"/>
<rect x="1744.6" y="1172" width="60.7" height="16.6" fill="#cf0000"/>
<rect x="1744.6" y="1188" width="60.7" height="12.6" fill="#df0000"/>
<rect x="1744.6" y="1200" width="60.7" height="20.6" fill="#ef0000"/>
<rect x="1744.6" y="1220" width="60.7" height="15.6" fill="#ff0000"/>
<rect x="1744.6" y="1235" width="60.7" height="19.6" fill="#ff1000"/>
<rect x="1744.6" y="1254" width="60.7" height="16.6" fill="#ff2000"/>
<rect x="1744.6" y="1270" width="60.7" height="20.6" fill="#ff3000"/>
<rect x="1744.6" y="1290" width="60.7" height="19.6" fill="#ff4000"/>
<rect x="1744.6" y="1309" width="60.7" height="15.6" fill="#ff5000"/>
<rect x="1744.6" y="1324" width="60.7" height="19.6" fill="#ff6000"/>
<rect x="1744.6" y="1343" width="60.7" height="19.6" fill="#ff7000"/>
<rect x="1744.6" y="1362" width="60.7" height="17.6" fill="#ff8000"/>
<rect x="1744.6" y="1379" width="60.7" height="19.6" fill="#ff8f00"/>
<rect x="1744.6" y="1398" width="60.7" height="19.6" fill="#ff9f00"/>
<rect x="1744.6" y="1417" width="60.7" height="25.6" fill="#ffaf00"/>
<rect x="1744.6" y="1442" width="60.7" height="19.6" fill="#ffbf00"/>
<rect x="1744.6" y="1461" width="60.7" height="26.6" fill="#ffcf00"/>
<rect x="1744.6" y="1487" width="60.7" height="24.6" fill="#ffdf00"/>
<rect x="1744.6" y="1511" width="60.7" height="24.6" fill="#ffef00"/>
<rect x="1744.6" y="1535" width="60.7" height="24.6" fill="#ffff00"/>
<rect x="1744.6" y="1559" width="60.7" height="31.6" fill="#efff10"/>
<rect x="1744.6" y="1590" width="60.7" height="25.1" fill="#dfff20"/>
<rect x="1744.6" y="1614.5" width="60.7" height="24.1" fill="#cfff30"/>
<rect x="1744.6" y="1638" width="60.7" height="29.6" fill="#bfff40"/>
<rect x="1744.6" y="1667" width="60.7" height="36.1" fill="#afff50"/>
<rect x="1744.6" y="1702.5" width="60.7" height="35.1" fill="#9fff60"/>
<rect x="1744.6" y="1737" width="60.7" height="48.6" fill="#8fff70"/>
<rect x="1744.6" y="1785" width="60.7" height="6.8" fill="#80ff80"/>
<rect x="1804.7" y="1053.3" width="58.3" height="6.3" fill="#cf0000"/>
<rect x="1804.7" y="1059" width="58.3" height="53.6" fill="#df0000"/>
<rect x="1804.7" y="1112" width="58.3" height="24.1" fill="#ef0000"/>
<rect x="1804.7" y="1135.5" width="58.3" height="22.1" fill="#ff0000"/>
<rect x="1804.7" y="1157" width="58.3" height="24.6" fill="#ff1000"/>
<rect x="1804.7" y="1181" width="58.3" height="25.6" fill="#ff2000"/>
<rect x="1804.7" y="1206" width="58.3" height="23.6" fill="#ff3000"/>
<rect x="1804.7" y="1229" width="58.3" height="29.6" fill="#ff4000"/>
<rect x="1804.7" y="1258" width="58.3" height="27.6" fill="#ff5000"/>
<rect x="1804.7" y="1285" width="58.3" height="24.6" fill="#ff6000"/>
<rect x="1804.7" y="1309" width="58.3" height="24.6" fill="#ff7000"/>
<rect x="1804.7" y="1333" width="58.3" height="24.6" fill="#ff8000"/>
<rect x="1804.7" y="1357" width="58.3" height="31.6" fill="#ff8f00"/>
<rect x="1804.7" y="1388" width="58.3" height="25.6" fill="#ff9f00"/>
<rect x="1804.7" y="1413" width="58.3" height="29.6" fill="#ffaf00"/>
<rect x="1804.7" y="1442" width="58.3" height="28.6" fill="#ffbf00"/>
<rect x="1804.7" y="1470" width="58.3" height="36.6" fill="#ffcf00"/>
<rect x="1804.7" y="1506" width="58.3" height="29.6" fill="#ffdf00"/>
<rect x="1804.7" y="1535" width="58.3" height="24.6" fill="#ffef00"/>
<rect x="1804.7" y="1559" width="58.3" height="41.6" fill="#ffff00"/>
<rect x="1804.7" y="1600" width="58.3" height="33.6" fill="#efff10"/>
<rect x="1804.7" y="1633" width="58.3" height="44.6" fill="#dfff20"/>
<rect x="1804.7" y="1677" width="58.3" height="46.1" fill="#cfff30"/>
<rect x="1804.7" y="1722.5" width="58.3" height="69.3" fill="#bfff40"/>
<rect x="1862.4" y="1053.3" width="58.1" height="15.3" fill="#cf0000"/>
<rect x="1862.4" y="1068" width="58.1" height="34.6" fill="#df0000"/>
<rect x="1862.4" y="1102" width="58.1" height="19.6" fill="#ef0000"/>
<rect x="1862.4" y="1121" width="58.1" height="20.6" fill="#ff0000"/>
<rect x="1862.4" y="1141" width="58.1" height="21.6" fill="#ff1000"/>
<rect x="1862.4" y="1162" width="58.1" height="19.6" fill="#ff2000"/>
<rect x="1862.4" y="1181" width="58.1" height="25.6" fill="#ff3000"/>
<rect x="1862.4" y="1206" width="58.1" height="19.6" fill="#ff4000"/>
<rect x="1862.4" y="1225" width="58.1" height="29.6" fill="#ff5000"/>
<rect x="1862.4" y="1254" width="58.1" height="26.6" fill="#ff6000"/>
<rect x="1862.4" y="1280" width="58.1" height="24.6" fill="#ff7000"/>
<rect x="1862.4" y="1304" width="58.1" height="24.6" fill="#ff8000"/>
<rect x="1862.4" y="1328" width="58.1" height="25.6" fill="#ff8f00"/>
<rect x="1862.4" y="1353" width="58.1" height="31.6" fill="#ff9f00"/>
<rect x="1862.4" y="1384" width="58.1" height="29.6" fill="#ffaf00"/>
<rect x="1862.4" y="1413" width="58.1" height="29.6" fill="#ffbf00"/>
<rect x="1862.4" y="1442" width="58.1" height="36.1" fill="#ffcf00"/>
<rect x="1862.4" y="1477.5" width="58.1" height="29.1" fill="#ffdf00"/>
<rect x="1862.4" y="1506" width="58.1" height="34.6" fill="#ffef00"/>
<rect x="1862.4" y="1540" width="58.1" height="33.6" fill="#ffff00"/>
<rect x="1862.4" y="1573" width="58.1" height="37.6" fill="#efff10"/>
<rect x="1862.4" y="1610" width="58.1" height="33.6" fill="#dfff20"/>
<rect x="1862.4" y="1643" width="58.1" height="44.6" fill="#cfff30"/>
<rect x="1862.4" y="1687" width="58.1" height="46.1" fill="#bfff40"/>
<rect x="1862.4" y="1732.5" width="58.1" height="59.3" fill="#afff50"/>
<rect x="1919.9" y="1053.3" width="58.7" height="49.3" fill="#ff0000"/>
<rect x="1919.9" y="1102" width="58.7" height="19.6" fill="#ff1000"/>
<rect x="1919.9" y="1121" width="58.7" height="20.6" fill="#ff2000"/>
<rect x="1919.9" y="1141" width="58.7" height="21.6" fill="#ff3000"/>
<rect x="1919.9" y="1162" width="58.7" height="19.6" fill="#ff4000"/>
<rect x="1919.9" y="1181" width="58.7" height="19.6" fill="#ff5000"/>
<rect x="1919.9" y="1200" width="58.7" height="25.6" fill="#ff6000"/>
<rect x="1919.9" y="1225" width="58.7" height="29.6" fill="#ff7000"/>
<rect x="1919.9" y="1254" width="58.7" height="26.6" fill="#ff8000"/>
<rect x="1919.9" y="1280" width="58.7" height="24.6" fill="#ff8f00"/>
<rect x="1919.9" y="1304" width="58.7" height="24.6" fill="#ff9f00"/>
<rect x="1919.9" y="1328" width="58.7" height="29.6" fill="#ffaf00"/>
<rect x="1919.9" y="1357" width="58.7" height="31.6" fill="#ffbf00"/>
<rect x="1919.9" y="1388" width="58.7" height="29.6" fill="#ffcf00"/>
<rect x="1919.9" y="1417" width="58.7" height="28.6" fill="#ffdf00"/>
<rect x="1919.9" y="1445" width="58.7" height="37.6" fill="#ffef00"/>
<rect x="1919.9" y="1482" width="58.7" height="33.6" fill="#ffff00"/>
<rect x="1919.9" y="1515" width="58.7" height="35.6" fill="#efff10"/>
<rect x="1919.9" y="1550" width="58.7" height="46.1" fill="#dfff20"/>
<rect x="1919.9" y="1595.5" width="58.7" height="34.1" fill="#cfff30"/>
<rect x="1919.9" y="1629" width="58.7" height="38.6" fill="#bfff40"/>
<rect x="1919.9" y="1667" width="58.7" height="56.1" fill="#afff50"/>
<rect x="1919.9" y="1722.5" width="58.7" height="54.1" fill="#9fff60"/>
<rect x="1919.9" y="1776" width="58.7" height="15.8" fill="#8fff70"/>
<rect x="1978" y="1053.3" width="58.1" height="39.3" fill="#8f0000"/>
<rect x="1978" y="1092" width="58.1" height="15.6" fill="#9f0000"/>
<rect x="1978" y="1107" width="58.1" height="14.6" fill="#af0000"/>
<rect x="1978" y="1121" width="58.1" height="10.6" fill="#bf0000"/>
<rect x="1978" y="1131" width="58.1" height="15.6" fill="#cf0000"/>
<rect x="1978" y="1146" width="58.1" height="16.6" fill="#df0000"/>
<rect x="1978" y="1162" width="58.1" height="15.6" fill="#ef0000"/>
<rect x="1978" y="1177" width="58.1" height="11.6" fill="#ff0000"/>
<rect x="1978" y="1188" width="58.1" height="22.6" fill="#ff1000"/>
<rect x="1978" y="1210" width="58.1" height="15.6" fill="#ff2000"/>
<rect x="1978" y="1225" width="58.1" height="14.6" fill="#ff3000"/>
<rect x="1978" y="1239" width="58.1" height="19.6" fill="#ff4000"/>
<rect x="1978" y="1258" width="58.1" height="17.6" fill="#ff5000"/>
<rect x="1978" y="1275" width="58.1" height="19.6" fill="#ff6000"/>
<rect x="1978" y="1294" width="58.1" height="15.6" fill="#ff7000"/>
<rect x="1978" y="1309" width="58.1" height="19.6" fill="#ff8000"/>
<rect x="1978" y="1328" width="58.1" height="19.6" fill="#ff8f00"/>
<rect x="1978" y="1347" width="58.1" height="15.6" fill="#ff9f00"/>
<rect x="1978" y="1362" width="58.1" height="22.6" fill="#ffaf00"/>
<rect x="1978" y="1384" width="58.1" height="24.6" fill="#ffbf00"/>
<rect x="1978" y="1408" width="58.1" height="17.6" fill="#ffcf00"/>
<rect x="1978" y="1425" width="58.1" height="20.6" fill="#ffdf00"/>
<rect x="1978" y="1445" width="58.1" height="25.6" fill="#ffef00"/>
<rect x="1978" y="1470" width="58.1" height="26.6" fill="#ffff00"/>
<rect x="1978" y="1496" width="58.1" height="29.6" fill="#efff10"/>
<rect x="1978" y="1525" width="58.1" height="29.6" fill="#dfff20"/>
<rect x="1978" y="1554" width="58.1" height="26.6" fill="#cfff30"/>
<rect x="1978" y="1580" width="58.1" height="25.1" fill="#bfff40"/>
<rect x="1978" y="1604.5" width="58.1" height="25.1" fill="#afff50"/>
<rect x="1978" y="1629" width="58.1" height="19.6" fill="#9fff60"/></g>
<line x1="2094.8" y1="1053.3" x2="2094.8" y2="1071.3" stroke="#000" stroke-width="1.6"/>
<line x1="1978.3" y1="1791.2" x2="1978.3" y2="1773.2" stroke="#000" stroke-width="1.6"/>
<polygon points="2211.8,1099.2 2200.4,1097.8 2184.5,1100.5 2173.1,1096.9 2159.4,1092.3 2145.8,1086.9 2132.1,1085.5 2123,1086 2113.9,1092.3 2104.8,1103.7 2098,1110.6 2088.9,1117.4 2084.3,1133.3 2077.5,1156.1 2070.7,1174.3 2067.5,1199.3 2063.9,1240.3 2059.3,1285.8 2054.8,1340.4 2050.2,1390.5 2045.7,1440.5 2041.1,1477 2038.8,1517.9 2036.5,1586.2 2034.3,1647.6 2033.4,1700 2029.7,1741 2025.2,1768.3 2020.6,1789.2 2020.6,1791.2 2212.5,1791.2 2212.5,1099.2" fill="#999999"/>
<polyline points="2211.8,1099.2 2200.4,1097.8 2184.5,1100.5 2173.1,1096.9 2159.4,1092.3 2145.8,1086.9 2132.1,1085.5 2123,1086 2113.9,1092.3 2104.8,1103.7 2098,1110.6 2088.9,1117.4 2084.3,1133.3 2077.5,1156.1 2070.7,1174.3 2067.5,1199.3 2063.9,1240.3 2059.3,1285.8 2054.8,1340.4 2050.2,1390.5 2045.7,1440.5 2041.1,1477 2038.8,1517.9 2036.5,1586.2 2034.3,1647.6 2033.4,1700 2029.7,1741 2025.2,1768.3 2020.6,1789.2" fill="none" stroke="#000" stroke-width="2"/>
<line x1="290.5" y1="1444.2" x2="2037.5" y2="1444.2" stroke="#000" stroke-width="2"/>
<polyline points="441.7,1053 452.9,1065.4 458.4,1070.9 464,1083.2 466.2,1087.6 468.5,1096.6 468.5,1121.1 471.1,1125.5 471.1,1172.3 473.4,1176.8 473.4,1332.7 471.1,1337.2 470.7,1361.7 468.5,1366.1 467.3,1379.5 465.1,1395.1 461.8,1404 458.4,1417.4 458.4,1424 448.4,1445.2 439.5,1465.2 433.9,1470.8 421.7,1476.4 405,1480.8 386,1485.3 377.1,1488.2 361.5,1502 347,1513.1 339.2,1520.9 317,1534.3 299.1,1545.4 290.5,1553.2" fill="none" stroke="#000" stroke-width="1.8" stroke-linejoin="round"/>
<polyline points="539.7,1791 546.4,1773.8 552,1751.5 556.5,1735.9 563.1,1720.3 567.6,1706.9 574.3,1696.9 579.9,1694.7 593.2,1692.5 599.9,1686.9 609.9,1670.2 612.2,1682.4 613.3,1692.5 621.1,1694.7 623.3,1713.6 626.6,1735.9 625.5,1753.7 628.9,1773.8 630.6,1791" fill="none" stroke="#000" stroke-width="1.8" stroke-linejoin="round"/>
<polyline points="649.4,1258.1 648.3,1248 644.9,1221.3 641.6,1190.1 639.3,1158.9 637.1,1125.5 637.1,1096.6 640.5,1083.2 646,1075.4 654.9,1070.9 667.2,1064.9 690.6,1064.3 691.7,1067.6 726.2,1067.6 731.8,1070.9 738.5,1077.6 745.2,1081 751.8,1088.8 757.4,1095.4 759.6,1105.5 764.1,1123.3 766.3,1141.1 769.2,1158.9 769.7,1185.7 769.7,1230.2 768.6,1236.9 765.2,1252.5 764.1,1268.1 761.9,1277 751.8,1287 742.9,1291.5 722.9,1298.2 718.4,1300.4 702.8,1310.4 689.5,1319.3" fill="none" stroke="#000" stroke-width="1.8" stroke-linejoin="round"/>
<polyline points="808.7,1053 807.5,1065.4 805.3,1074.3 798.6,1085.4 795.3,1096.6 793.1,1109.9 791.9,1141.1 789.7,1145.6 789.7,1201.3 787.9,1205.7 787.9,1285.9 785.7,1290.4 785.7,1339.4 783,1343.8 781.9,1368.3 780.4,1372.8 779,1404 778.1,1408.4 778.6,1446.3 779.7,1450.7 777.5,1457.4 776.3,1493.1 774.1,1497.5 773,1517.6 770.8,1522 769.7,1537.6 769,1559.9 766.3,1564.3 765.7,1579.9 763.4,1584.4 763,1606.7 761.2,1608.9 761.2,1617.8 767.4,1620 774.6,1622.3 774.1,1625.6 772.3,1626.7 770.8,1640.1 769.7,1660.1 766.3,1666.8 759.6,1669.1 757.4,1684.6 756.3,1704.7 754.1,1709.2 751.8,1715.8 750.7,1731.4 747.4,1740.3 746.7,1751.5 754.1,1753.7 755.2,1760.4 753,1764.8 751.8,1782.7 749.6,1784.9 749.6,1791" fill="none" stroke="#000" stroke-width="1.8" stroke-linejoin="round"/>
<polyline points="1174.2,1053 1170.9,1057.6 1173.6,1063.1 1173.1,1069.8 1171.4,1088.8 1167.6,1096.6 1163.1,1123.3 1159.8,1138.9 1158.7,1163.4 1155.8,1167.8 1154.2,1190.1 1153.1,1207.9 1150.9,1214.6 1150.4,1236.9 1148.2,1241.4 1147.5,1260.3 1146,1263.6 1144.6,1283.7 1143.1,1297.1 1141.9,1319.3 1139.3,1323.8 1137.5,1341.6 1134.8,1350.5 1134.1,1358.3 1130.8,1363.9 1128.6,1377.3 1123,1390.6 1119.7,1397.3 1117.4,1410.7 1115.2,1417.4 1115.2,1424 1109.6,1445.2 1106.3,1464.1 1101.8,1481.9 1098.5,1502 1095.2,1522 1091.8,1539.8 1088.9,1553.2 1087.4,1571 1086.2,1591.1 1084,1595.5 1084,1615.6 1075.1,1621.2 1074,1633.4 1070.7,1653.5 1066.2,1669.1 1064,1684.6 1060.6,1704.7 1057.3,1715.8 1055.1,1731.4 1050.6,1744.8 1050.6,1750.4 1064,1751 1064,1752.6 1080.7,1753.3 1084,1755.9 1084,1791" fill="none" stroke="#000" stroke-width="1.8" stroke-linejoin="round"/>
<ellipse cx="670.5" cy="1300.4" rx="13" ry="7.2" fill="none" stroke="#000" stroke-width="4" transform="rotate(20 670.5 1300.4)"/>
<line x1="712.9" y1="1057" x2="729.6" y2="1057" stroke="#000" stroke-width="3"/><line x1="1772" y1="1791" x2="1775" y2="1783" stroke="#000" stroke-width="3"/>
<rect x="290.5" y="1053.3" width="1922" height="737.9" fill="none" stroke="#000" stroke-width="2.4"/>
<g shape-rendering="crispEdges">
<rect x="2288.6" y="753.9" width="100.2" height="12.2" fill="#00008f"/>
<rect x="2288.6" y="742.4" width="100.2" height="12.2" fill="#00009f"/>
<rect x="2288.6" y="730.8" width="100.2" height="12.2" fill="#0000af"/>
<rect x="2288.6" y="719.2" width="100.2" height="12.2" fill="#0000bf"/>
<rect x="2288.6" y="707.7" width="100.2" height="12.2" fill="#0000cf"/>
<rect x="2288.6" y="696.1" width="100.2" height="12.2" fill="#0000df"/>
<rect x="2288.6" y="684.5" width="100.2" height="12.2" fill="#0000ef"/>
<rect x="2288.6" y="673" width="100.2" height="12.2" fill="#0000ff"/>
<rect x="2288.6" y="661.4" width="100.2" height="12.2" fill="#0010ff"/>
<rect x="2288.6" y="649.8" width="100.2" height="12.2" fill="#0020ff"/>
<rect x="2288.6" y="638.3" width="100.2" height="12.2" fill="#0030ff"/>
<rect x="2288.6" y="626.7" width="100.2" height="12.2" fill="#0040ff"/>
<rect x="2288.6" y="615.1" width="100.2" height="12.2" fill="#0050ff"/>
<rect x="2288.6" y="603.6" width="100.2" height="12.2" fill="#0060ff"/>
<rect x="2288.6" y="592" width="100.2" height="12.2" fill="#0070ff"/>
<rect x="2288.6" y="580.5" width="100.2" height="12.2" fill="#0080ff"/>
<rect x="2288.6" y="568.9" width="100.2" height="12.2" fill="#008fff"/>
<rect x="2288.6" y="557.3" width="100.2" height="12.2" fill="#009fff"/>
<rect x="2288.6" y="545.8" width="100.2" height="12.2" fill="#00afff"/>
<rect x="2288.6" y="534.2" width="100.2" height="12.2" fill="#00bfff"/>
<rect x="2288.6" y="522.6" width="100.2" height="12.2" fill="#00cfff"/>
<rect x="2288.6" y="511.1" width="100.2" height="12.2" fill="#00dfff"/>
<rect x="2288.6" y="499.5" width="100.2" height="12.2" fill="#00efff"/>
<rect x="2288.6" y="487.9" width="100.2" height="12.2" fill="#00ffff"/>
<rect x="2288.6" y="476.4" width="100.2" height="12.2" fill="#10ffef"/>
<rect x="2288.6" y="464.8" width="100.2" height="12.2" fill="#20ffdf"/>
<rect x="2288.6" y="453.2" width="100.2" height="12.2" fill="#30ffcf"/>
<rect x="2288.6" y="441.7" width="100.2" height="12.2" fill="#40ffbf"/>
<rect x="2288.6" y="430.1" width="100.2" height="12.2" fill="#50ffaf"/>
<rect x="2288.6" y="418.5" width="100.2" height="12.2" fill="#60ff9f"/>
<rect x="2288.6" y="407" width="100.2" height="12.2" fill="#70ff8f"/>
<rect x="2288.6" y="395.4" width="100.2" height="12.2" fill="#80ff80"/>
<rect x="2288.6" y="383.8" width="100.2" height="12.2" fill="#8fff70"/>
<rect x="2288.6" y="372.3" width="100.2" height="12.2" fill="#9fff60"/>
<rect x="2288.6" y="360.7" width="100.2" height="12.2" fill="#afff50"/>
<rect x="2288.6" y="349.1" width="100.2" height="12.2" fill="#bfff40"/>
<rect x="2288.6" y="337.6" width="100.2" height="12.2" fill="#cfff30"/>
<rect x="2288.6" y="326" width="100.2" height="12.2" fill="#dfff20"/>
<rect x="2288.6" y="314.4" width="100.2" height="12.2" fill="#efff10"/>
<rect x="2288.6" y="302.9" width="100.2" height="12.2" fill="#ffff00"/>
<rect x="2288.6" y="291.3" width="100.2" height="12.2" fill="#ffef00"/>
<rect x="2288.6" y="279.7" width="100.2" height="12.2" fill="#ffdf00"/>
<rect x="2288.6" y="268.2" width="100.2" height="12.2" fill="#ffcf00"/>
<rect x="2288.6" y="256.6" width="100.2" height="12.2" fill="#ffbf00"/>
<rect x="2288.6" y="245" width="100.2" height="12.2" fill="#ffaf00"/>
<rect x="2288.6" y="233.5" width="100.2" height="12.2" fill="#ff9f00"/>
<rect x="2288.6" y="221.9" width="100.2" height="12.2" fill="#ff8f00"/>
<rect x="2288.6" y="210.3" width="100.2" height="12.2" fill="#ff8000"/>
<rect x="2288.6" y="198.8" width="100.2" height="12.2" fill="#ff7000"/>
<rect x="2288.6" y="187.2" width="100.2" height="12.2" fill="#ff6000"/>
<rect x="2288.6" y="175.7" width="100.2" height="12.2" fill="#ff5000"/>
<rect x="2288.6" y="164.1" width="100.2" height="12.2" fill="#ff4000"/>
<rect x="2288.6" y="152.5" width="100.2" height="12.2" fill="#ff3000"/>
<rect x="2288.6" y="141" width="100.2" height="12.2" fill="#ff2000"/>
<rect x="2288.6" y="129.4" width="100.2" height="12.2" fill="#ff1000"/>
<rect x="2288.6" y="117.8" width="100.2" height="12.2" fill="#ff0000"/>
<rect x="2288.6" y="106.3" width="100.2" height="12.2" fill="#ef0000"/>
<rect x="2288.6" y="94.7" width="100.2" height="12.2" fill="#df0000"/>
<rect x="2288.6" y="83.1" width="100.2" height="12.2" fill="#cf0000"/>
<rect x="2288.6" y="71.6" width="100.2" height="12.2" fill="#bf0000"/>
<rect x="2288.6" y="60" width="100.2" height="12.2" fill="#af0000"/>
<rect x="2288.6" y="48.4" width="100.2" height="12.2" fill="#9f0000"/>
<rect x="2288.6" y="36.9" width="100.2" height="12.2" fill="#8f0000"/>
<rect x="2288.6" y="25.3" width="100.2" height="12.2" fill="#800000"/>
</g>
<line x1="2288.6" y1="210.5" x2="2298.6" y2="210.5" stroke="#000" stroke-width="2"/>
<line x1="2388.8" y1="210.5" x2="2378.8" y2="210.5" stroke="#000" stroke-width="2"/>
<line x1="2288.6" y1="396" x2="2298.6" y2="396" stroke="#000" stroke-width="2"/>
<line x1="2388.8" y1="396" x2="2378.8" y2="396" stroke="#000" stroke-width="2"/>
<line x1="2288.6" y1="581" x2="2298.6" y2="581" stroke="#000" stroke-width="2"/>
<line x1="2388.8" y1="581" x2="2378.8" y2="581" stroke="#000" stroke-width="2"/>
<rect x="2288.6" y="25.3" width="100.2" height="740.2" fill="none" stroke="#000" stroke-width="2.4"/>
<g shape-rendering="crispEdges">
<rect x="2288.6" y="1781.6" width="100.2" height="12.2" fill="#00008f"/>
<rect x="2288.6" y="1770.1" width="100.2" height="12.2" fill="#00009f"/>
<rect x="2288.6" y="1758.5" width="100.2" height="12.2" fill="#0000af"/>
<rect x="2288.6" y="1747" width="100.2" height="12.2" fill="#0000bf"/>
<rect x="2288.6" y="1735.4" width="100.2" height="12.2" fill="#0000cf"/>
<rect x="2288.6" y="1723.8" width="100.2" height="12.2" fill="#0000df"/>
<rect x="2288.6" y="1712.3" width="100.2" height="12.2" fill="#0000ef"/>
<rect x="2288.6" y="1700.7" width="100.2" height="12.2" fill="#0000ff"/>
<rect x="2288.6" y="1689.2" width="100.2" height="12.2" fill="#0010ff"/>
<rect x="2288.6" y="1677.6" width="100.2" height="12.2" fill="#0020ff"/>
<rect x="2288.6" y="1666" width="100.2" height="12.2" fill="#0030ff"/>
<rect x="2288.6" y="1654.5" width="100.2" height="12.2" fill="#0040ff"/>
<rect x="2288.6" y="1642.9" width="100.2" height="12.2" fill="#0050ff"/>
<rect x="2288.6" y="1631.3" width="100.2" height="12.2" fill="#0060ff"/>
<rect x="2288.6" y="1619.8" width="100.2" height="12.2" fill="#0070ff"/>
<rect x="2288.6" y="1608.2" width="100.2" height="12.2" fill="#0080ff"/>
<rect x="2288.6" y="1596.7" width="100.2" height="12.2" fill="#008fff"/>
<rect x="2288.6" y="1585.1" width="100.2" height="12.2" fill="#009fff"/>
<rect x="2288.6" y="1573.5" width="100.2" height="12.2" fill="#00afff"/>
<rect x="2288.6" y="1562" width="100.2" height="12.2" fill="#00bfff"/>
<rect x="2288.6" y="1550.4" width="100.2" height="12.2" fill="#00cfff"/>
<rect x="2288.6" y="1538.9" width="100.2" height="12.2" fill="#00dfff"/>
<rect x="2288.6" y="1527.3" width="100.2" height="12.2" fill="#00efff"/>
<rect x="2288.6" y="1515.7" width="100.2" height="12.2" fill="#00ffff"/>
<rect x="2288.6" y="1504.2" width="100.2" height="12.2" fill="#10ffef"/>
<rect x="2288.6" y="1492.6" width="100.2" height="12.2" fill="#20ffdf"/>
<rect x="2288.6" y="1481.1" width="100.2" height="12.2" fill="#30ffcf"/>
<rect x="2288.6" y="1469.5" width="100.2" height="12.2" fill="#40ffbf"/>
<rect x="2288.6" y="1457.9" width="100.2" height="12.2" fill="#50ffaf"/>
<rect x="2288.6" y="1446.4" width="100.2" height="12.2" fill="#60ff9f"/>
<rect x="2288.6" y="1434.8" width="100.2" height="12.2" fill="#70ff8f"/>
<rect x="2288.6" y="1423.2" width="100.2" height="12.2" fill="#80ff80"/>
<rect x="2288.6" y="1411.7" width="100.2" height="12.2" fill="#8fff70"/>
<rect x="2288.6" y="1400.1" width="100.2" height="12.2" fill="#9fff60"/>
<rect x="2288.6" y="1388.6" width="100.2" height="12.2" fill="#afff50"/>
<rect x="2288.6" y="1377" width="100.2" height="12.2" fill="#bfff40"/>
<rect x="2288.6" y="1365.4" width="100.2" height="12.2" fill="#cfff30"/>
<rect x="2288.6" y="1353.9" width="100.2" height="12.2" fill="#dfff20"/>
<rect x="2288.6" y="1342.3" width="100.2" height="12.2" fill="#efff10"/>
<rect x="2288.6" y="1330.8" width="100.2" height="12.2" fill="#ffff00"/>
<rect x="2288.6" y="1319.2" width="100.2" height="12.2" fill="#ffef00"/>
<rect x="2288.6" y="1307.6" width="100.2" height="12.2" fill="#ffdf00"/>
<rect x="2288.6" y="1296.1" width="100.2" height="12.2" fill="#ffcf00"/>
<rect x="2288.6" y="1284.5" width="100.2" height="12.2" fill="#ffbf00"/>
<rect x="2288.6" y="1273" width="100.2" height="12.2" fill="#ffaf00"/>
<rect x="2288.6" y="1261.4" width="100.2" height="12.2" fill="#ff9f00"/>
<rect x="2288.6" y="1249.8" width="100.2" height="12.2" fill="#ff8f00"/>
<rect x="2288.6" y="1238.3" width="100.2" height="12.2" fill="#ff8000"/>
<rect x="2288.6" y="1226.7" width="100.2" height="12.2" fill="#ff7000"/>
<rect x="2288.6" y="1215.2" width="100.2" height="12.2" fill="#ff6000"/>
<rect x="2288.6" y="1203.6" width="100.2" height="12.2" fill="#ff5000"/>
<rect x="2288.6" y="1192" width="100.2" height="12.2" fill="#ff4000"/>
<rect x="2288.6" y="1180.5" width="100.2" height="12.2" fill="#ff3000"/>
<rect x="2288.6" y="1168.9" width="100.2" height="12.2" fill="#ff2000"/>
<rect x="2288.6" y="1157.3" width="100.2" height="12.2" fill="#ff1000"/>
<rect x="2288.6" y="1145.8" width="100.2" height="12.2" fill="#ff0000"/>
<rect x="2288.6" y="1134.2" width="100.2" height="12.2" fill="#ef0000"/>
<rect x="2288.6" y="1122.7" width="100.2" height="12.2" fill="#df0000"/>
<rect x="2288.6" y="1111.1" width="100.2" height="12.2" fill="#cf0000"/>
<rect x="2288.6" y="1099.5" width="100.2" height="12.2" fill="#bf0000"/>
<rect x="2288.6" y="1088" width="100.2" height="12.2" fill="#af0000"/>
<rect x="2288.6" y="1076.4" width="100.2" height="12.2" fill="#9f0000"/>
<rect x="2288.6" y="1064.9" width="100.2" height="12.2" fill="#8f0000"/>
<rect x="2288.6" y="1053.3" width="100.2" height="12.2" fill="#800000"/>
</g>
<line x1="2288.6" y1="1238.5" x2="2298.6" y2="1238.5" stroke="#000" stroke-width="2"/>
<line x1="2388.8" y1="1238.5" x2="2378.8" y2="1238.5" stroke="#000" stroke-width="2"/>
<line x1="2288.6" y1="1424" x2="2298.6" y2="1424" stroke="#000" stroke-width="2"/>
<line x1="2388.8" y1="1424" x2="2378.8" y2="1424" stroke="#000" stroke-width="2"/>
<line x1="2288.6" y1="1609" x2="2298.6" y2="1609" stroke="#000" stroke-width="2"/>
<line x1="2388.8" y1="1609" x2="2378.8" y2="1609" stroke="#000" stroke-width="2"/>
<rect x="2288.6" y="1053.3" width="100.2" height="739.9" fill="none" stroke="#000" stroke-width="2.4"/>
<text transform="translate(252.5 866) scale(0.97 1)" font-size="80" text-anchor="start">4</text><ellipse cx="304.7" cy="815.5" rx="9.8" ry="6.9" fill="none" stroke="#000" stroke-width="3"/><text transform="translate(343 866) scale(0.97 1.085)" font-size="80" text-anchor="start">E</text>
<text transform="translate(461.5 866) scale(0.97 1)" font-size="80" text-anchor="middle">5</text>
<text transform="translate(578.3 866) scale(0.97 1)" font-size="80" text-anchor="middle">6</text>
<text transform="translate(694.7 866) scale(0.97 1)" font-size="80" text-anchor="middle">7</text>
<text transform="translate(811 866) scale(0.97 1)" font-size="80" text-anchor="middle">8</text>
<text transform="translate(927.7 866) scale(0.97 1)" font-size="80" text-anchor="middle">9</text>
<text transform="translate(1044.5 866) scale(0.97 1)" font-size="80" text-anchor="middle">10</text>
<text transform="translate(1160 866) scale(0.97 1)" font-size="80" text-anchor="middle">11</text>
<text transform="translate(1277 866) scale(0.97 1)" font-size="80" text-anchor="middle">12</text>
<text transform="translate(1394 866) scale(0.97 1)" font-size="80" text-anchor="middle">13</text>
<text transform="translate(1510.5 866) scale(0.97 1)" font-size="80" text-anchor="middle">14</text>
<text transform="translate(1627 866) scale(0.97 1)" font-size="80" text-anchor="middle">15</text>
<text transform="translate(1743.5 866) scale(0.97 1)" font-size="80" text-anchor="middle">16</text>
<text transform="translate(1860 866) scale(0.97 1)" font-size="80" text-anchor="middle">17</text>
<text transform="translate(1977 866) scale(0.97 1)" font-size="80" text-anchor="middle">18</text>
<text transform="translate(2093.5 866) scale(0.97 1)" font-size="80" text-anchor="middle">19</text>
<text transform="translate(2152 866) scale(0.97 1)" font-size="80" text-anchor="start">20</text><ellipse cx="2255.7" cy="815.5" rx="9.8" ry="6.9" fill="none" stroke="#000" stroke-width="3"/><text transform="translate(2292.5 866) scale(0.97 1.085)" font-size="80" text-anchor="start">E</text>
<text transform="translate(252.5 1894) scale(0.97 1)" font-size="80" text-anchor="start">4</text><ellipse cx="304.7" cy="1843.5" rx="9.8" ry="6.9" fill="none" stroke="#000" stroke-width="3"/><text transform="translate(343 1894) scale(0.97 1.085)" font-size="80" text-anchor="start">E</text>
<text transform="translate(461.5 1894) scale(0.97 1)" font-size="80" text-anchor="middle">5</text>
<text transform="translate(578.3 1894) scale(0.97 1)" font-size="80" text-anchor="middle">6</text>
<text transform="translate(694.7 1894) scale(0.97 1)" font-size="80" text-anchor="middle">7</text>
<text transform="translate(811 1894) scale(0.97 1)" font-size="80" text-anchor="middle">8</text>
<text transform="translate(927.7 1894) scale(0.97 1)" font-size="80" text-anchor="middle">9</text>
<text transform="translate(1044.5 1894) scale(0.97 1)" font-size="80" text-anchor="middle">10</text>
<text transform="translate(1160 1894) scale(0.97 1)" font-size="80" text-anchor="middle">11</text>
<text transform="translate(1277 1894) scale(0.97 1)" font-size="80" text-anchor="middle">12</text>
<text transform="translate(1394 1894) scale(0.97 1)" font-size="80" text-anchor="middle">13</text>
<text transform="translate(1510.5 1894) scale(0.97 1)" font-size="80" text-anchor="middle">14</text>
<text transform="translate(1627 1894) scale(0.97 1)" font-size="80" text-anchor="middle">15</text>
<text transform="translate(1743.5 1894) scale(0.97 1)" font-size="80" text-anchor="middle">16</text>
<text transform="translate(1860 1894) scale(0.97 1)" font-size="80" text-anchor="middle">17</text>
<text transform="translate(1977 1894) scale(0.97 1)" font-size="80" text-anchor="middle">18</text>
<text transform="translate(2093.5 1894) scale(0.97 1)" font-size="80" text-anchor="middle">19</text>
<text transform="translate(2152 1894) scale(0.97 1)" font-size="80" text-anchor="start">20</text><ellipse cx="2255.7" cy="1843.5" rx="9.8" ry="6.9" fill="none" stroke="#000" stroke-width="3"/><text transform="translate(2292.5 1894) scale(0.97 1.085)" font-size="80" text-anchor="start">E</text>
<text transform="translate(187.5 56) scale(0.97 1)" font-size="80" text-anchor="middle">0</text>
<text transform="translate(187.5 302) scale(0.97 1)" font-size="80" text-anchor="middle">500</text>
<text transform="translate(188.5 547.6) scale(0.97 1)" font-size="80" text-anchor="middle">1000</text>
<text transform="translate(187.5 795.5) scale(0.97 1)" font-size="80" text-anchor="middle">1500</text>
<text transform="translate(166 1084) scale(0.97 1)" font-size="80" text-anchor="middle">0</text>
<text transform="translate(166 1329.5) scale(0.97 1)" font-size="80" text-anchor="middle">500</text>
<text transform="translate(168.5 1575.5) scale(0.97 1)" font-size="80" text-anchor="middle">1000</text>
<text transform="translate(168.5 1822.5) scale(0.97 1)" font-size="80" text-anchor="middle">1500</text>
<text transform="translate(2401 57) scale(0.97 1)" font-size="80" text-anchor="start">10</text>
<text transform="translate(2401 242.3) scale(0.97 1)" font-size="80" text-anchor="start">5</text>
<text transform="translate(2401 427.3) scale(0.97 1)" font-size="80" text-anchor="start">0</text>
<text transform="translate(2401 611.8) scale(0.97 1)" font-size="80" text-anchor="start">-5</text>
<text transform="translate(2401 797.4) scale(0.97 1)" font-size="80" text-anchor="start">-10</text>
<text transform="translate(2401 1085) scale(0.97 1)" font-size="80" text-anchor="start">10</text>
<text transform="translate(2401 1270.3) scale(0.97 1)" font-size="80" text-anchor="start">5</text>
<text transform="translate(2401 1455.3) scale(0.97 1)" font-size="80" text-anchor="start">0</text>
<text transform="translate(2401 1639.8) scale(0.97 1)" font-size="80" text-anchor="start">-5</text>
<text transform="translate(2401 1825.4) scale(0.97 1)" font-size="80" text-anchor="start">-10</text>
<text transform="translate(-5 64) scale(0.97 1)" font-size="80" text-anchor="start">(a)</text>
<text transform="translate(-5 1091) scale(0.97 1)" font-size="80" text-anchor="start">(b)</text>
<text transform="translate(462 600.5) scale(0.97 1)" font-size="80" text-anchor="start">30</text><text transform="translate(550 570.5) scale(0.97 1)" font-size="46" text-anchor="start" stroke="#000" stroke-width="0.9">o</text><text transform="translate(591 600.5) scale(0.97 1)" font-size="80" text-anchor="start">S</text>
<text transform="translate(462 1577) scale(0.97 1)" font-size="80" text-anchor="start">35</text><text transform="translate(550 1547) scale(0.97 1)" font-size="46" text-anchor="start" stroke="#000" stroke-width="0.9">o</text><text transform="translate(591 1577) scale(0.97 1)" font-size="80" text-anchor="start">S</text>
<text transform="translate(60 384) rotate(-90) scale(1.016 1)" font-size="80" text-anchor="middle">Depth (m)</text>
<text transform="translate(60 1437.5) rotate(-90) scale(1.016 1)" font-size="80" text-anchor="middle">Depth (m)</text>
</svg>
</body></html>
